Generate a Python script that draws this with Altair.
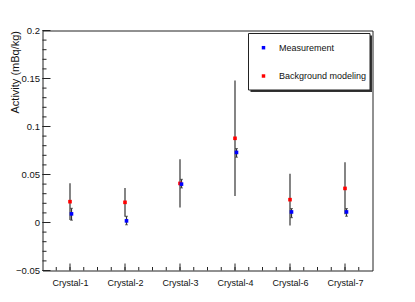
import altair as alt
import numpy as np
import pandas as pd

# ---- data ----
categories = ["Crystal-1", "Crystal-2", "Crystal-3", "Crystal-4", "Crystal-6", "Crystal-7"]
meas = [0.009, 0.0017, 0.040, 0.073, 0.011, 0.011]
meas_lo = [0.0024, -0.0024, 0.036, 0.068, 0.005, 0.0065]
meas_hi = [0.0148, 0.0065, 0.045, 0.077, 0.0145, 0.0145]
bkg = [0.0217, 0.021, 0.0407, 0.0877, 0.0238, 0.0355]
bkg_lo = [0.0027, 0.006, 0.0157, 0.0277, -0.003, 0.0085]
bkg_hi = [0.041, 0.036, 0.066, 0.148, 0.0507, 0.0628]
legend_labels = ["Measurement", "Background modeling"]
colors = ["#0000ff", "#ff0000"]
y_title = "Activity (mBq/kg)"

pos = list(range(1, len(categories) + 1))
df = pd.DataFrame({
    "pos": pos, "cat": categories,
    "meas": meas, "meas_lo": meas_lo, "meas_hi": meas_hi,
    "bkg": bkg, "bkg_lo": bkg_lo, "bkg_hi": bkg_hi,
})

W, H = 330, 240
xscale = alt.Scale(domain=[0.5, 6.5], nice=False, zero=False)
yscale = alt.Scale(domain=[-0.05, 0.2], nice=False, zero=False)

label_expr = "[" + ",".join(f"'{c}'" for c in categories) + "][round(datum.value)-1]"

def X(field):
    return alt.X(field, type="quantitative", scale=xscale, axis=None, title=None)

def Y(field):
    return alt.Y(field, type="quantitative", scale=yscale, axis=None, title=y_title)

font = "Liberation Sans"

# base layer carries the axes (labels only; ticks drawn inward separately)
base = alt.Chart(df).mark_point(opacity=0).encode(
    x=alt.X("pos:Q", scale=xscale, title=None,
            axis=alt.Axis(values=pos, labelExpr=label_expr, ticks=False, domain=False,
                          grid=False, labelFontSize=9, labelFont=font, labelColor="#111",
                          labelPadding=8)),
    y=alt.Y("meas:Q", scale=yscale, title=y_title,
            axis=alt.Axis(values=[-0.05, 0, 0.05, 0.1, 0.15, 0.2], format=".2~f",
                          ticks=False, domain=False, grid=False, labelFontSize=9.5,
                          labelFont=font, labelColor="#111", labelPadding=3,
                          titleFont=font, titleFontSize=11, titleFontWeight="normal",
                          titleColor="#111", titleAngle=-90, titleAlign="right",
                          titleBaseline="alphabetic", titleX=-24, titleY=0)),
)

bar_color = "#333333"
bkg_bar = alt.Chart(df).mark_rule(color=bar_color, strokeWidth=1.2).encode(
    x=X("pos"), y=Y("bkg_lo"), y2="bkg_hi")
meas_bar = alt.Chart(df).mark_rule(color=bar_color, strokeWidth=1.2, xOffset=1.5).encode(
    x=X("pos"), y=Y("meas_lo"), y2="meas_hi")
meas_cap_lo = alt.Chart(df).mark_tick(color=bar_color, orient="horizontal", size=3,
                                       thickness=1, xOffset=1.5).encode(x=X("pos"), y=Y("meas_lo"))
meas_cap_hi = alt.Chart(df).mark_tick(color=bar_color, orient="horizontal", size=3,
                                       thickness=1, xOffset=1.5).encode(x=X("pos"), y=Y("meas_hi"))
bkg_pt = alt.Chart(df).mark_square(color=colors[1], size=13, opacity=1).encode(
    x=X("pos"), y=Y("bkg"))
meas_pt = alt.Chart(df).mark_square(color=colors[0], size=13, opacity=1, xOffset=1.5).encode(
    x=X("pos"), y=Y("meas"))

# inward ticks (ROOT style)
y_major = pd.DataFrame({"v": [-0.05, 0.0, 0.05, 0.1, 0.15, 0.2]})
y_minor = pd.DataFrame({"v": np.round(np.arange(-0.05, 0.2001, 0.01), 3)})
x_major = pd.DataFrame({"v": pos})
x_minor = pd.DataFrame({"v": np.arange(0.75, 6.5, 0.25)})
tick_col = "#222222"
ymaj = alt.Chart(y_major).mark_rule(color=tick_col, strokeWidth=1).encode(
    y=Y("v"), x=alt.value(0), x2=alt.value(8))
ymin = alt.Chart(y_minor).mark_rule(color=tick_col, strokeWidth=1).encode(
    y=Y("v"), x=alt.value(0), x2=alt.value(4))
xmaj = alt.Chart(x_major).mark_rule(color=tick_col, strokeWidth=1).encode(
    x=X("v"), y=alt.value(H), y2=alt.value(H - 7))
xmin = alt.Chart(x_minor).mark_rule(color=tick_col, strokeWidth=1).encode(
    x=X("v"), y=alt.value(H), y2=alt.value(H - 3.5))

# legend box (ROOT TLegend with shadow)
one = pd.DataFrame({"k": [0]})
lx0, lx1, ly0, ly1 = 206, 327.5, 3, 59.5
shadow = alt.Chart(one).mark_rect(color="#333333").encode(
    x=alt.value(lx0 + 2), x2=alt.value(lx1 + 2), y=alt.value(ly0 + 2), y2=alt.value(ly1 + 2))
box = alt.Chart(one).mark_rect(fill="white", stroke="#222222", strokeWidth=1).encode(
    x=alt.value(lx0), x2=alt.value(lx1), y=alt.value(ly0), y2=alt.value(ly1))
leg_layers = []
for i, (lab, col) in enumerate(zip(legend_labels, colors)):
    yy = 17.2 + i * 28.3
    d = pd.DataFrame({"label": [lab]})
    leg_layers.append(alt.Chart(d).mark_square(color=col, size=12, opacity=1).encode(
        x=alt.value(221), y=alt.value(yy)))
    leg_layers.append(alt.Chart(d).mark_text(align="left", baseline="middle", font=font,
                                             fontSize=9, color="#111").encode(
        x=alt.value(236.5), y=alt.value(yy), text="label:N"))

chart = alt.layer(
    base, ymin, ymaj, xmin, xmaj, bkg_bar, meas_bar, meas_cap_lo, meas_cap_hi, bkg_pt, meas_pt,
    shadow, box, *leg_layers
).resolve_axis(x="independent", y="independent").properties(
    width=W, height=H,
    autosize=alt.AutoSizeParams(type="none"),
    padding={"left": 34.5, "top": 22.5, "right": 30, "bottom": 30},
).configure_view(stroke="#222222", strokeWidth=1)

chart.save("out.html", embed_options={"renderer": "svg", "actions": False})
